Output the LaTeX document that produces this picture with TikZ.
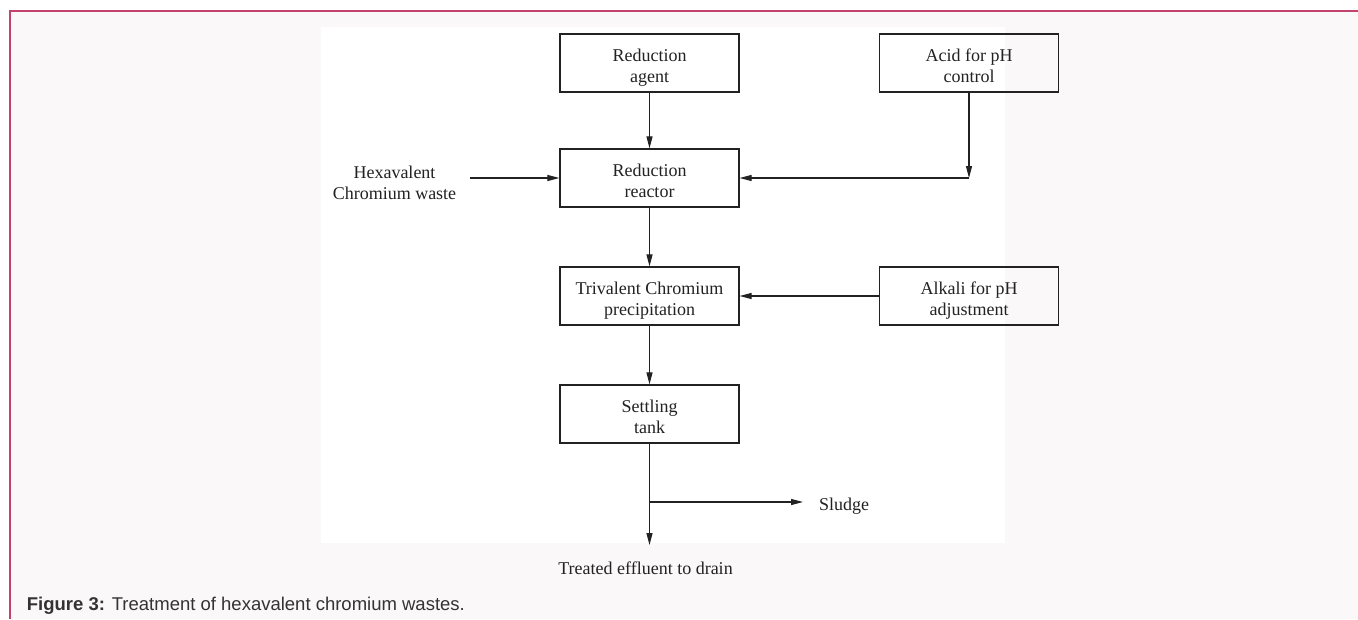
\documentclass[tikz,border=0pt]{standalone}
\usepackage{fontspec}
\setmainfont{Liberation Serif}
\newfontfamily\captionfont{Liberation Sans}
\usepackage{xcolor}
\usepackage{tikz}
\usetikzlibrary{arrows.meta, positioning, calc}

\definecolor{framered}{HTML}{C4436E}
\definecolor{panelgray}{HTML}{FAF8F9}
\definecolor{inkgray}{HTML}{222222}

% two lines of box text, with fixed height and depth
\newcommand{\boxlines}[2]{\rule{0pt}{22pt}#1\\#2\rule[-4.5pt]{0pt}{1pt}}

\begin{document}
\begin{tikzpicture}[x=1pt, y=-1pt,
    box/.style={rectangle, draw=inkgray, line width=1.2pt, minimum width=179pt, minimum height=58pt, inner sep=2pt, align=center, text=inkgray, font=\fontsize{18}{21}\selectfont},
    label/.style={align=center, text=inkgray, inner sep=0pt, font=\fontsize{18}{21}\selectfont},
    arrow/.style={-{Triangle[length=12pt, width=6pt]}, line width=1.1pt, draw=inkgray}
]
    \useasboundingbox (0,0) rectangle (1358,619);

    % Page and frame
    \fill[white] (0,0) rectangle (1358,619);
    \fill[panelgray] (9.5,11) rectangle (1358,619);
    \fill[white] (321,27) rectangle (1005,543);
    \draw[framered, line width=2pt] (9.5,619) -- (9.5,11) -- (1358,11);

    % Reduction agent
    \node[box] (agent) at (649.5,63) {\boxlines{Reduction}{agent}};

    % Acid for pH control
    \node[box] (acid) at (969,63) {\boxlines{Acid for pH}{control}};

    % Reduction reactor
    \node[box] (reactor) at (649.5,178) {\boxlines{Reduction}{reactor}};

    % Hexavalent chromium waste
    \node[label, inner xsep=14pt] (hexwaste) at (394.5,182.5) {Hexavalent\\Chromium waste};

    % Trivalent chromium precipitation
    \node[box] (trivalent) at (649.5,296) {\boxlines{Trivalent Chromium}{precipitation}};

    % Alkali for pH adjustment
    \node[box] (alkali) at (969,296) {\boxlines{Alkali for pH}{adjustment}};

    % Settling tank
    \node[box] (settling) at (649.5,414) {\boxlines{Settling}{tank}};

    % Outlets
    \coordinate (acidturn) at (acid |- reactor);
    \coordinate (split) at (settling |- 0,502);
    \coordinate (drain) at (settling |- 0,545);
    \node[label, anchor=base west, inner xsep=16pt] (sludge) at (803,510.5) {Sludge};
    \node[label] (effluent) at (645.5,568) {Treated effluent to drain};

    % Caption
    \node[anchor=base west, inner sep=0pt, text=black!80, font=\captionfont\fontsize{18.5}{20}\selectfont] (caption) at (26.7,610) {\textbf{Figure 3:} Treatment of hexavalent chromium wastes.};

    % Arrows
    \draw[arrow] (agent) -- (reactor);
    \draw[arrow] (hexwaste.east |- reactor) -- (reactor);
    \draw[arrow] (acid) -- (acidturn);
    \draw[arrow] (acidturn) -- (reactor);
    \draw[arrow] (reactor) -- (trivalent);
    \draw[arrow] (alkali) -- (trivalent);
    \draw[arrow] (trivalent) -- (settling);
    \draw[arrow] (settling) -- (drain);
    \draw[arrow] (split) -- (sludge.west |- split);

\end{tikzpicture}
\end{document}
